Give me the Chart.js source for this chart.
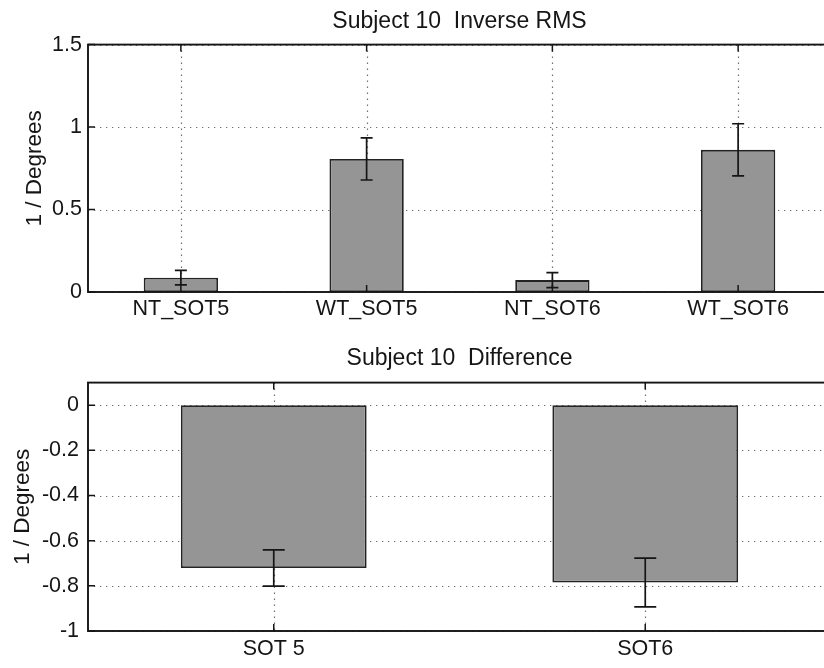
<!DOCTYPE html>
<html>
<head>
<meta charset="utf-8">
<script src="https://cdn.jsdelivr.net/npm/chart.js@4/dist/chart.umd.min.js"></script>
<style>
  html, body { margin: 0; padding: 0; background: #fff; }
  #fig { position: relative; width: 824px; height: 668px; overflow: hidden; background: #fff; }
  #fig canvas { position: absolute; left: 0; }
</style>
</head>
<body>
<div id="fig">
  <canvas id="rms" width="840" height="340" style="top:0;width:840px;height:340px"></canvas>
  <canvas id="diff" width="840" height="328" style="top:340px;width:840px;height:328px"></canvas>
</div>
<script>
// Subject 10: inverse RMS per condition
const rmsCategories = ['NT_SOT5', 'WT_SOT5', 'NT_SOT6', 'WT_SOT6'];
const rmsValues = [0.087, 0.807, 0.072, 0.862];
const rmsErrors = [0.044, 0.128, 0.045, 0.158];
const rmsTicks = [0, 0.5, 1, 1.5];
const rmsTickLabels = ['0', '0.5', '1', '1.5'];

// Subject 10: difference per SOT
const diffCategories = ['SOT 5', 'SOT6'];
const diffValues = [-0.721, -0.785];
const diffErrors = [0.080, 0.108];
const diffTicks = [-1, -0.8, -0.6, -0.4, -0.2, 0];
const diffTickLabels = ['-1', '-0.8', '-0.6', '-0.4', '-0.2', '0'];

const FONT = "'Liberation Sans', Arial, Helvetica, sans-serif";
const INK = '#151515';

// Dotted grid under the bars; box, inward tick marks and error bars on top.
const axesDecor = {
  id: 'axesDecor',
  beforeDatasetsDraw(chart, args, opts) {
    const { ctx, chartArea: a, scales: { x, y } } = chart;
    ctx.save();
    ctx.strokeStyle = '#707070';
    ctx.lineWidth = 1.2;
    ctx.setLineDash([1.3, 4.7]);
    opts.yTicks.forEach(v => {
      const py = Math.round(y.getPixelForValue(v)) + 0.5;
      ctx.beginPath(); ctx.moveTo(a.left, py); ctx.lineTo(a.right, py); ctx.stroke();
    });
    chart.data.labels.forEach((_, i) => {
      const px = Math.round(x.getPixelForValue(i)) + 0.5;
      ctx.beginPath(); ctx.moveTo(px, a.top); ctx.lineTo(px, a.bottom); ctx.stroke();
    });
    ctx.restore();
  },
  afterDatasetsDraw(chart, args, opts) {
    const { ctx, chartArea: a, scales: { x, y } } = chart;
    const data = chart.data.datasets[0].data;
    ctx.save();
    ctx.strokeStyle = INK;
    ctx.lineWidth = 1.7;
    data.forEach((v, i) => {
      const px = x.getPixelForValue(i);
      const hi = y.getPixelForValue(v + opts.errors[i]);
      const lo = y.getPixelForValue(v - opts.errors[i]);
      ctx.beginPath();
      ctx.moveTo(px, hi); ctx.lineTo(px, lo);
      ctx.moveTo(px - opts.cap, hi); ctx.lineTo(px + opts.cap, hi);
      ctx.moveTo(px - opts.cap, lo); ctx.lineTo(px + opts.cap, lo);
      ctx.stroke();
    });
    // axes box
    ctx.lineWidth = 1.9;
    ctx.strokeRect(a.left, a.top, a.right - a.left, a.bottom - a.top);
    // inward tick marks
    const t = 7;
    ctx.lineWidth = 1.5;
    chart.data.labels.forEach((_, i) => {
      const px = x.getPixelForValue(i);
      ctx.beginPath();
      ctx.moveTo(px, a.top); ctx.lineTo(px, a.top + t);
      ctx.moveTo(px, a.bottom); ctx.lineTo(px, a.bottom - t);
      ctx.stroke();
    });
    opts.yTicks.forEach(v => {
      const py = y.getPixelForValue(v);
      ctx.beginPath();
      ctx.moveTo(a.left, py); ctx.lineTo(a.left + t, py);
      ctx.moveTo(a.right, py); ctx.lineTo(a.right - t, py);
      ctx.stroke();
    });
    ctx.restore();
  }
};

function makeChart(id, cfg) {
  return new Chart(document.getElementById(id), {
    type: 'bar',
    data: {
      labels: cfg.labels,
      datasets: [{
        data: cfg.values,
        backgroundColor: '#959595',
        borderColor: '#232323',
        borderWidth: 1.8,
        borderSkipped: false,
        barPercentage: cfg.barFrac,
        categoryPercentage: 1.0
      }]
    },
    options: {
      responsive: false,
      animation: false,
      events: [],
      layout: { padding: { left: 0, right: 9, top: 0, bottom: 0 } },
      plugins: {
        legend: { display: false },
        tooltip: { enabled: false },
        title: {
          display: true,
          text: cfg.title,
          fullSize: false,
          color: INK,
          font: { family: FONT, size: 23, weight: 'normal' },
          padding: cfg.titlePad
        },
        axesDecor: { errors: cfg.errors, yTicks: cfg.yTicks, cap: cfg.cap }
      },
      scales: {
        x: {
          type: 'category',
          offset: true,
          grid: { display: false, drawTicks: false },
          border: { display: false },
          ticks: {
            color: INK,
            padding: cfg.xPad,
            maxRotation: 0,
            autoSkip: false,
            font: { family: FONT, size: 21.5 }
          },
          afterFit: s => { s.height = cfg.xHeight; }
        },
        y: {
          type: 'linear',
          min: cfg.yMin,
          max: cfg.yMax,
          grid: { display: false, drawTicks: false },
          border: { display: false },
          afterBuildTicks: s => { s.ticks = cfg.yTicks.map(v => ({ value: v })); },
          afterFit: s => { s.width = 88; },
          ticks: {
            color: INK,
            padding: cfg.yPad,
            font: { family: FONT, size: 21.5 },
            callback: v => cfg.yLabels[cfg.yTicks.indexOf(v)]
          },
          title: {
            display: true,
            text: '1 / Degrees',
            color: INK,
            font: { family: FONT, size: 22.5 },
            padding: { top: cfg.yTitlePad, bottom: 0 }
          }
        }
      }
    },
    plugins: [axesDecor]
  });
}

makeChart('rms', {
  labels: rmsCategories,
  values: rmsValues,
  errors: rmsErrors,
  yTicks: rmsTicks,
  yLabels: rmsTickLabels,
  yMin: 0, yMax: 1.5,
  title: 'Subject 10  Inverse RMS',
  titlePad: { top: 8, bottom: 9 },
  barFrac: 0.4,
  cap: 6,
  xPad: 4,
  xHeight: 48,
  yPad: 6,
  yTitlePad: 21
});

makeChart('diff', {
  labels: diffCategories,
  values: diffValues,
  errors: diffErrors,
  yTicks: diffTicks,
  yLabels: diffTickLabels,
  yMin: -1, yMax: 0.1,
  title: 'Subject 10  Difference',
  titlePad: { top: 5, bottom: 10 },
  barFrac: 0.5,
  cap: 11,
  xPad: 5,
  xHeight: 37,
  yPad: 9,
  yTitlePad: 9
});
</script>
</body>
</html>
